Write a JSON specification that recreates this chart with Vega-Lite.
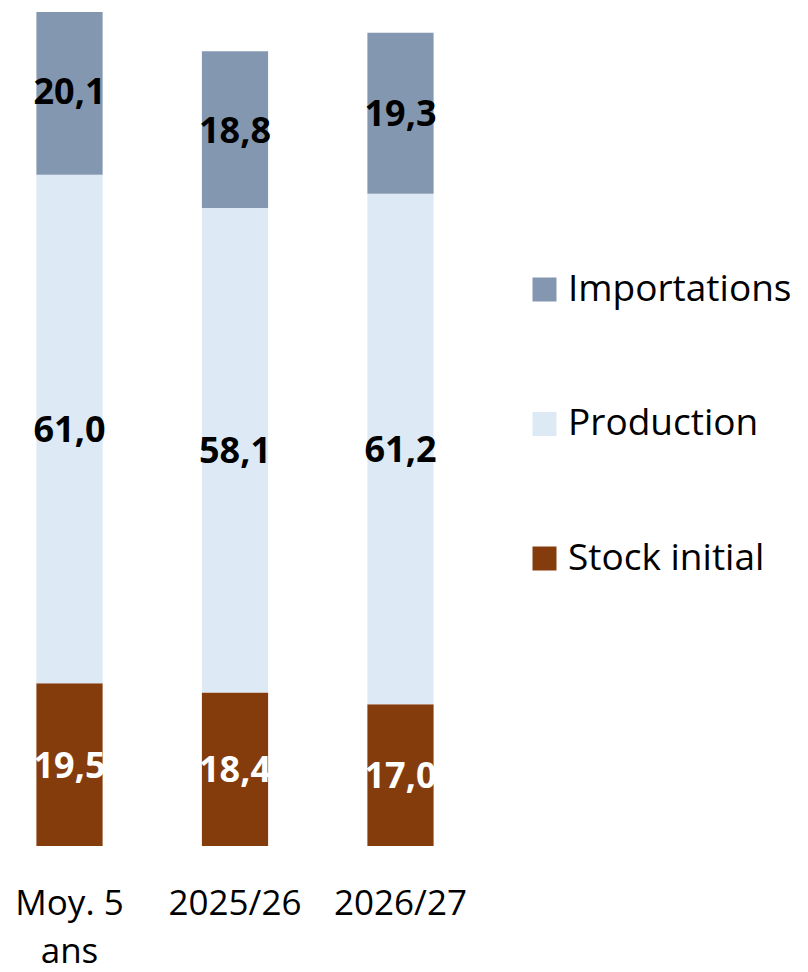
{
  "$schema": "https://vega.github.io/schema/vega-lite/v6.json",
  "autosize": "none",
  "width": 470,
  "height": 834,
  "padding": {"top": 12, "left": 0, "right": 338, "bottom": 126},
  "background": "white",
  "config": {
    "view": {"stroke": null},
    "font": "Open Sans",
    "locale": {"number": {"decimal": ",", "thousands": " ", "grouping": [3], "currency": ["", " €"]}}
  },
  "data": {
    "values": [
      {"cat": "Moy. 5 ans", "serie": "Stock initial", "val": 19.5},
      {"cat": "Moy. 5 ans", "serie": "Production", "val": 61.0},
      {"cat": "Moy. 5 ans", "serie": "Importations", "val": 20.1},
      {"cat": "2025/26", "serie": "Stock initial", "val": 18.4},
      {"cat": "2025/26", "serie": "Production", "val": 58.1},
      {"cat": "2025/26", "serie": "Importations", "val": 18.8},
      {"cat": "2026/27", "serie": "Stock initial", "val": 17.0},
      {"cat": "2026/27", "serie": "Production", "val": 61.2},
      {"cat": "2026/27", "serie": "Importations", "val": 19.3}
    ]
  },
  "encoding": {
    "x": {
      "field": "cat", "type": "nominal",
      "sort": ["Moy. 5 ans", "2025/26", "2026/27"],
      "scale": {"paddingInner": 0.6, "paddingOuter": 0.22},
      "axis": {
        "title": null, "domain": false, "ticks": false, "labelAngle": 0,
        "labelFontSize": 35, "labelColor": "black", "labelPadding": 40,
        "labelLineHeight": 48,
        "labelExpr": "datum.label == 'Moy. 5 ans' ? ['Moy. 5', 'ans'] : datum.label"
      }
    }
  },
  "layer": [
    {
      "mark": {"type": "bar", "clip": true},
      "encoding": {
        "y": {"field": "val", "type": "quantitative", "stack": "zero",
              "scale": {"domain": [0, 100], "nice": false}, "axis": null},
        "order": {"field": "serie", "sort": "descending"},
        "color": {
          "field": "serie", "type": "nominal",
          "scale": {"domain": ["Importations", "Production", "Stock initial"],
                    "range": ["#8497B0", "#DDEAF6", "#843C0C"]},
          "legend": {
            "title": null, "orient": "none", "legendX": 526, "legendY": 259,
            "symbolType": "square", "symbolSize": 576, "symbolStrokeWidth": 0,
            "labelFontSize": 37, "labelColor": "black", "labelOffset": 5,
            "rowPadding": 96.5, "padding": 0, "labelLimit": 300
          }
        }
      }
    },
    {
      "transform": [
        {"stack": "val", "groupby": ["cat"], "sort": [{"field": "serie", "order": "descending"}], "as": ["y0", "y1"]},
        {"fold": ["y0", "y1"], "as": ["edge", "pos"]},
        {"aggregate": [{"op": "mean", "field": "pos", "as": "mid"}], "groupby": ["cat", "serie", "val"]}
      ],
      "mark": {"type": "text", "fontSize": 36, "fontWeight": "bold", "baseline": "middle", "dy": 2},
      "encoding": {
        "y": {"field": "mid", "type": "quantitative", "scale": {"domain": [0, 100], "nice": false}},
        "text": {"field": "val", "type": "quantitative", "format": ".1f"},
        "color": {"condition": {"test": "datum.serie === 'Stock initial'", "value": "white"}, "value": "black"}
      }
    }
  ]
}
